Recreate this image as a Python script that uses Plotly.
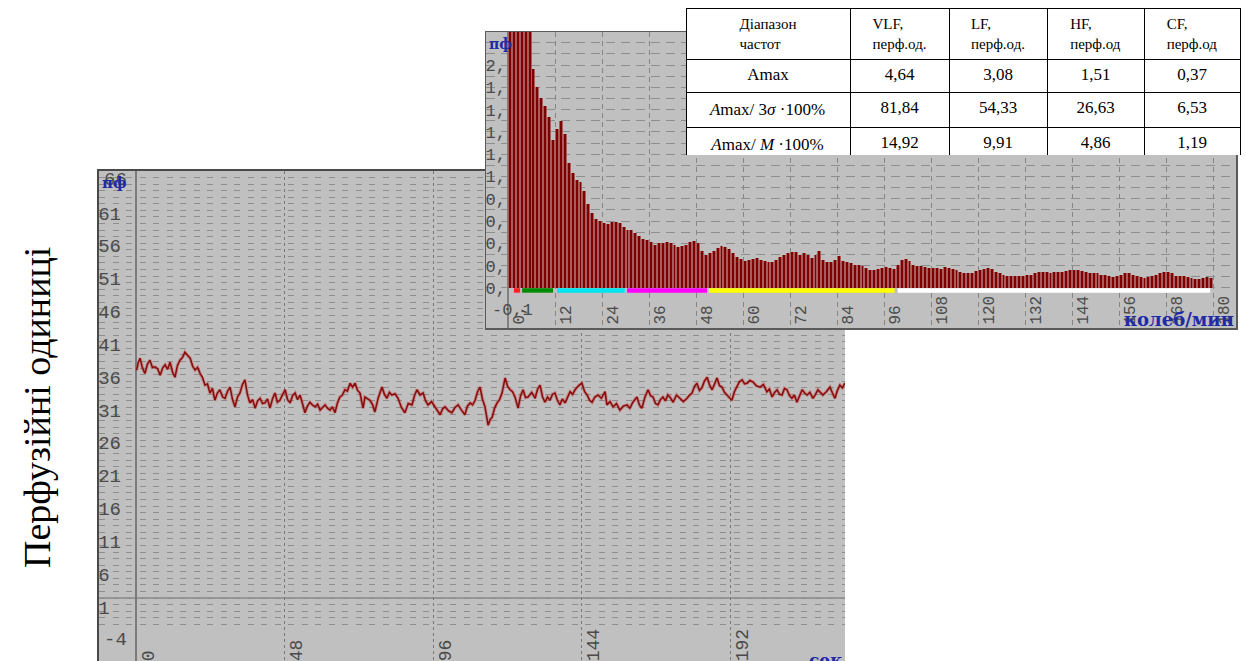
import plotly.graph_objects as go

W, H = 1246, 661

# ---------------- perfusion record (пф) against time, s ----------------
t_sec = [
    0.2, 0.75, 1.3, 2.1, 2.9, 3.7, 4.5, 5.3, 6.1, 7.0,
    7.8, 8.6, 9.4, 10.2, 11.0, 11.8, 12.6, 13.4, 14.2, 15.0,
    15.8, 16.6, 17.5, 18.3, 19.1, 19.9, 20.7, 21.5, 22.3, 23.1,
    23.9, 24.7, 25.5, 26.3, 27.1, 28.0, 28.8, 29.6, 30.4, 31.2,
    32.0, 32.8, 33.6, 34.4, 35.2, 36.0, 36.8, 37.7, 38.5, 39.3,
    40.1, 40.9, 41.7, 42.5, 43.3, 44.1, 44.9, 45.7, 46.5, 47.4,
    48.2, 49.0, 49.8, 50.6, 51.4, 52.2, 53.0, 53.8, 54.6, 55.4,
    56.2, 57.0, 57.9, 58.7, 59.5, 60.3, 61.1, 61.9, 62.7, 63.5,
    64.3, 65.1, 65.9, 66.7, 67.5, 68.3, 69.2, 70.0, 70.8, 71.6,
    72.4, 72.9, 73.4, 74.0, 74.8, 75.6, 76.4, 77.2, 78.3, 79.5,
    80.3, 81.1, 81.9, 82.7, 83.7, 84.7, 85.8, 86.9, 88.0, 89.2,
    90.0, 90.8, 91.8, 92.8, 93.6, 94.4, 95.5, 96.6, 97.4, 98.3,
    99.1, 99.9, 101.0, 102.1, 103.1, 104.1, 105.2, 106.3, 107.1, 108.0,
    108.8, 109.6, 110.4, 111.2, 112.0, 112.8, 113.8, 114.5, 115.1, 115.9,
    116.7, 117.5, 118.3, 119.3, 120.1, 120.9, 121.7, 122.5, 123.5, 124.3,
    125.1, 125.9, 126.7, 127.9, 129.0, 129.8, 130.6, 131.4, 132.2, 133.0,
    133.8, 134.6, 135.4, 136.2, 137.0, 137.8, 138.7, 139.5, 140.3, 141.1,
    141.9, 143.0, 144.1, 145.0, 145.8, 146.6, 147.4, 148.3, 149.3, 150.4,
    151.6, 152.2, 153.2, 154.2, 155.3, 156.4, 157.5, 158.7, 159.6, 160.6,
    161.9, 162.7, 163.5, 164.5, 165.5, 166.3, 167.1, 167.9, 168.7, 169.5,
    170.3, 171.1, 171.9, 172.7, 173.6, 174.7, 175.8, 176.9, 178.1, 178.9,
    179.7, 180.5, 181.3, 182.1, 182.9, 183.7, 184.6, 185.4, 186.2, 187.0,
    187.8, 188.6, 189.4, 190.2, 191.0, 191.8, 192.6, 193.4, 194.2, 195.0,
    195.9, 196.7, 197.5, 198.4, 199.4, 200.5, 201.7, 202.8, 203.9, 204.7,
    205.6, 206.4, 207.2, 208.0, 208.8, 209.6, 210.4, 211.2, 212.0, 212.8,
    213.6, 214.4, 215.3, 216.1, 216.9, 217.8, 218.8, 219.6, 220.4, 221.2,
    222.0, 223.1, 224.3, 225.1, 225.9, 226.7, 227.5, 228.3, 229.1,
]
perf = [
    35.7, 36.9, 37.5, 36.0, 35.2, 36.6, 37.2, 36.1, 36.2, 35.9,
    34.9, 36.0, 36.5, 35.8, 36.9, 35.4, 34.6, 36.4, 37.2, 37.6,
    38.4, 37.9, 37.5, 36.3, 35.7, 36.1, 35.2, 34.6, 33.4, 33.6,
    32.2, 32.9, 31.1, 32.2, 32.7, 31.6, 31.4, 32.5, 33.1, 31.2,
    30.1, 31.6, 32.2, 33.5, 34.2, 32.0, 30.7, 31.2, 29.9, 31.0,
    31.4, 30.6, 30.7, 31.3, 29.9, 31.3, 32.2, 30.8, 31.1, 32.0,
    32.7, 31.2, 30.7, 31.8, 32.2, 31.2, 31.9, 30.6, 29.2, 30.2,
    30.8, 30.4, 30.1, 30.5, 29.6, 30.0, 30.4, 29.9, 29.6, 30.1,
    29.2, 30.7, 31.6, 31.9, 32.7, 32.5, 33.7, 33.1, 33.7, 32.6,
    32.2, 31.0, 29.9, 31.6, 31.3, 31.1, 30.5, 29.3, 31.5, 33.1,
    32.0, 31.4, 32.3, 31.9, 32.1, 31.4, 30.0, 29.2, 30.6, 30.4,
    31.8, 32.7, 31.9, 32.2, 31.0, 30.4, 30.9, 30.1, 29.4, 28.9,
    29.8, 30.1, 29.5, 29.2, 30.0, 30.4, 29.6, 28.9, 30.2, 30.7,
    30.4, 31.1, 32.4, 33.1, 31.2, 30.1, 27.3, 28.2, 28.5, 29.9,
    30.7, 31.2, 32.2, 34.5, 33.2, 32.7, 32.4, 31.6, 29.9, 31.8,
    32.7, 31.5, 31.6, 32.3, 31.4, 32.8, 33.4, 31.6, 30.8, 31.6,
    31.1, 32.0, 32.2, 31.1, 30.4, 31.3, 30.7, 31.7, 32.4, 32.0,
    32.7, 33.3, 33.7, 32.4, 31.9, 31.1, 30.8, 31.6, 31.9, 31.4,
    32.4, 30.4, 30.9, 30.1, 30.6, 29.6, 30.2, 30.4, 29.9, 30.8,
    31.6, 30.4, 29.9, 31.6, 32.7, 31.8, 31.6, 30.6, 30.4, 31.2,
    31.6, 31.0, 31.9, 31.5, 30.8, 31.9, 31.4, 30.9, 31.4, 31.9,
    32.2, 33.2, 33.7, 32.6, 33.0, 34.0, 34.6, 33.4, 32.7, 33.5,
    34.5, 33.3, 33.1, 32.3, 31.9, 31.6, 31.1, 32.4, 33.1, 33.9,
    34.2, 33.6, 33.7, 34.1, 33.9, 33.3, 33.1, 33.5, 32.4, 32.8,
    31.6, 32.3, 32.7, 32.0, 31.9, 32.9, 32.7, 31.8, 31.4, 31.9,
    30.8, 31.6, 32.7, 32.2, 31.9, 32.3, 31.4, 32.0, 32.7, 32.3,
    31.9, 32.4, 33.1, 32.2, 31.4, 32.6, 33.4, 33.0, 33.7,
]
ts_xticks = [0, 48, 96, 144, 192]
ts_yticks = [61, 56, 51, 46, 41, 36, 31, 26, 21, 16, 11, 6, 1]
ts_yticks_edge = [66, -4]          # scale marks at the very top and bottom
BASE_LEVEL = 1

# ---------------- amplitude spectrum, bins of 1 колеб/мин ----------------
spec_amp = [2.60, 3.20, 4.64, 3.90, 3.10, 2.45, 1.96, 1.80, 1.70, 1.63,
            1.53, 1.33, 1.43, 1.50, 1.38, 1.12, 1.03, 0.97, 0.95, 0.87,
            0.75, 0.67, 0.62, 0.60, 0.58, 0.57, 0.59, 0.59, 0.58, 0.55,
            0.52, 0.52, 0.49, 0.47, 0.44, 0.43, 0.41, 0.39, 0.40, 0.40,
            0.41, 0.40, 0.39, 0.37, 0.38, 0.39, 0.41, 0.42, 0.40, 0.33,
            0.30, 0.31, 0.33, 0.36, 0.38, 0.37, 0.35, 0.31, 0.28, 0.26,
            0.24, 0.25, 0.26, 0.27, 0.25, 0.24, 0.23, 0.23, 0.25, 0.28,
            0.30, 0.31, 0.32, 0.32, 0.30, 0.31, 0.30, 0.27, 0.30, 0.33,
            0.25, 0.23, 0.23, 0.25, 0.29, 0.24, 0.23, 0.22, 0.21, 0.21,
            0.20, 0.18, 0.16, 0.16, 0.17, 0.18, 0.19, 0.18, 0.17, 0.21,
            0.25, 0.26, 0.24, 0.21, 0.20, 0.20, 0.19, 0.18, 0.18, 0.18,
            0.17, 0.19, 0.18, 0.17, 0.16, 0.14, 0.13, 0.13, 0.13, 0.15,
            0.16, 0.17, 0.18, 0.17, 0.14, 0.13, 0.12, 0.11, 0.11, 0.11,
            0.11, 0.11, 0.12, 0.12, 0.13, 0.14, 0.14, 0.14, 0.13, 0.14,
            0.14, 0.14, 0.15, 0.16, 0.16, 0.16, 0.15, 0.14, 0.13, 0.13,
            0.13, 0.12, 0.12, 0.11, 0.10, 0.11, 0.12, 0.13, 0.13, 0.12,
            0.11, 0.10, 0.09, 0.10, 0.11, 0.12, 0.13, 0.14, 0.14, 0.13,
            0.11, 0.11, 0.11, 0.10, 0.09, 0.08, 0.08, 0.09, 0.10, 0.09]
spec_freq = [i + 0.5 for i in range(len(spec_amp))]
spec_xticks = [0, 12, 24, 36, 48, 60, 72, 84, 96, 108, 120, 132, 144, 156, 168, 180]
spec_xtext = ["0,", "12", "24", "36", "48", "60", "72", "84", "96", "108", "120",
              "132", "144", "156", "168", "180"]
spec_yticks = [2.0, 1.8, 1.6, 1.4, 1.2, 1.0, 0.8, 0.6, 0.4, 0.2, 0.0]
spec_ytext = ["2,", "1,", "1,", "1,", "1,", "1,", "0,", "0,", "0,", "0,", "0,"]
SPEC_LOW_TICK = -0.2
SPEC_LOW_TEXT = "-0,1"

# frequency ranges marked under the spectrum
band_start = [1.5, 3.6, 12.5, 30.4, 51.3, 99.5]
band_end = [3.1, 11.5, 29.8, 50.8, 98.7, 179.3]
band_color = ["#ff1f1f", "#008a00", "#00e6f0", "#ff00ff", "#ffff00", "#ffffff"]

# ---------------- table of amplitudes ----------------
tab_header = ["Діапазон<br>частот", "VLF,<br>перф.од.", "LF,<br>перф.од.",
              "HF,<br>перф.од", "CF,<br>перф.од"]
tab_rows = ["Amax", "<i>A</i>max/ 3<i>σ</i> ·100%", "<i>A</i>max/ <i>M</i> ·100%"]
col_vlf = ["4,64", "81,84", "14,92"]
col_lf = ["3,08", "54,33", "9,91"]
col_hf = ["1,51", "26,63", "4,86"]
col_cf = ["0,37", "6,53", "1,19"]


def fx(px):
    return px / W


def fy(py):
    return 1 - py / H


PANEL = "#c0c0c0"
GRID = "#8e8e8e"
LABEL = "#4a4a4a"
BLUE = "#1f2aa6"
MONO = "Liberation Mono, DejaVu Sans Mono, monospace"
SERIF = "Liberation Serif, Times New Roman, serif"
BOLD_SERIF = "DejaVu Serif, serif"

# axis ranges (time record and spectrum panels)
T_LO, T_HI = -11.96, 229.15
P_LO, P_HI = -8.59, 66.0
F_LO, F_HI = -5.62, 185.86
A_LO, A_HI = -0.359, 2.296

fig = go.Figure()

# perfusion record
fig.add_trace(go.Scatter(x=t_sec, y=perf, mode="lines", xaxis="x", yaxis="y",
                         line=dict(color="rgba(200,60,60,0.35)", width=3.5),
                         hoverinfo="skip"))
fig.add_trace(go.Scatter(x=t_sec, y=perf, mode="lines", xaxis="x", yaxis="y",
                         line=dict(color="#8a0c0c", width=1.6)))

# spectrum bars: pale full-width bin with a dark narrower bar on top
fig.add_trace(go.Bar(x=spec_freq, y=spec_amp, width=1.0, xaxis="x2", yaxis="y2",
                     marker=dict(color="#a85c5c", line=dict(width=0))))
fig.add_trace(go.Bar(x=spec_freq, y=spec_amp, width=0.5, xaxis="x2", yaxis="y2",
                     marker=dict(color="#7c0000", line=dict(width=0))))

# coloured frequency ranges
for s, e, c in zip(band_start, band_end, band_color):
    fig.add_trace(go.Scatter(x=[s, e], y=[-0.022, -0.022], mode="lines",
                             xaxis="x2", yaxis="y2", line=dict(color=c, width=4.5)))

# table
fig.add_trace(go.Table(
    domain=dict(x=[fx(686), fx(1240)], y=[fy(156), fy(8)]),
    columnwidth=[164, 99, 98, 97, 96],
    header=dict(values=tab_header, align="center", height=49,
                fill=dict(color="white"), line=dict(color="black", width=1),
                font=dict(family=SERIF, size=15, color="black")),
    cells=dict(values=[tab_rows, col_vlf, col_lf, col_hf, col_cf], align="center",
               height=32.7, fill=dict(color="white"), line=dict(color="black", width=1),
               font=dict(family=SERIF, size=17, color="black")),
))

fig.update_layout(
    width=W, height=H,
    margin=dict(l=0, r=0, t=0, b=0),
    paper_bgcolor="white", plot_bgcolor=PANEL,
    showlegend=False, barmode="overlay", bargap=0,
    xaxis=dict(domain=[fx(99), fx(845)], range=[T_LO, T_HI],
               tickmode="array", tickvals=ts_xticks, ticktext=[str(v) for v in ts_xticks],
               ticklabelposition="inside", tickangle=-90, ticklabelshift=12,
               ticklabelstandoff=-6, ticks="",
               tickfont=dict(family=MONO, size=18, color=LABEL),
               showgrid=True, gridcolor="#777777", griddash="3px,3px", gridwidth=1,
               zeroline=True, zerolinecolor="#7a7a7a", zerolinewidth=1.5,
               showline=True, linecolor="#4a4a4a", linewidth=2, mirror=True,
               fixedrange=True),
    yaxis=dict(domain=[0, fy(171)], range=[P_LO, P_HI],
               tickmode="array", tickvals=ts_yticks, ticktext=[str(v) for v in ts_yticks],
               ticklabelposition="inside", ticklabelshift=9, ticks="",
               tickfont=dict(family=MONO, size=19, color=LABEL),
               showgrid=True, gridcolor=GRID, griddash="6px,7.5px", gridwidth=1,
               minor=dict(dtick=1, tick0=0, showgrid=True, gridcolor=GRID,
                          griddash="6px,7.5px", gridwidth=1),
               zeroline=False, showline=True, linecolor="#4a4a4a", linewidth=2,
               fixedrange=True),
    xaxis2=dict(domain=[fx(486), fx(1236)], range=[F_LO, F_HI], anchor="y2",
                tickmode="array", tickvals=spec_xticks, ticktext=spec_xtext,
                ticklabelposition="inside", tickangle=-90, ticklabelshift=11,
                ticklabelstandoff=-2, ticks="",
                tickfont=dict(family=MONO, size=16, color=LABEL),
                showgrid=True, gridcolor="#858585", griddash="5px,4px", gridwidth=1,
                zeroline=True, zerolinecolor="#808080", zerolinewidth=1.5,
                showline=True, linecolor="#5a5a5a", linewidth=1.5, mirror=True,
                fixedrange=True),
    yaxis2=dict(domain=[fy(328), fy(32)], range=[A_LO, A_HI], anchor="x2",
                tickmode="array", tickvals=spec_yticks, ticktext=spec_ytext,
                ticklabelposition="inside", ticks="",
                tickfont=dict(family=MONO, size=17, color=LABEL),
                showgrid=True, gridcolor=GRID, griddash="9px,6px", gridwidth=1,
                minor=dict(dtick=0.1, tick0=0, showgrid=True, gridcolor=GRID,
                           griddash="9px,6px", gridwidth=1),
                zeroline=False, showline=True, linecolor="#5a5a5a", linewidth=1.5,
                mirror=True, fixedrange=True),
)

# solid reference level of the recorder scale
fig.add_shape(type="line", xref="x", yref="y", x0=T_LO, x1=T_HI,
              y0=BASE_LEVEL, y1=BASE_LEVEL, layer="below",
              line=dict(color="#8a8a8a", width=1.5))

annotations = [
    dict(text="<b>пф</b>", x=fx(100), y=fy(172), xanchor="left", yanchor="top",
         font=dict(family=BOLD_SERIF, size=15, color=BLUE)),
    dict(text="<b>пф</b>", x=fx(487), y=fy(34), xanchor="left", yanchor="top",
         font=dict(family=BOLD_SERIF, size=14, color=BLUE)),
    dict(text="<b>сек</b>", x=fx(807), y=fy(648), xanchor="left", yanchor="top",
         font=dict(family=BOLD_SERIF, size=17, color=BLUE)),
    dict(text="<b>колеб/мин</b>", x=fx(1236), y=fy(332), xanchor="right",
         yanchor="bottom", font=dict(family=BOLD_SERIF, size=18, color=BLUE)),
    dict(text="Перфузійні одиниці", textangle=-90, x=fx(37), y=fy(408),
         xanchor="center", yanchor="middle",
         font=dict(family=SERIF, size=38, color="black")),
]
for a in annotations:
    a.update(xref="paper", yref="paper", showarrow=False)

# edge scale marks of the record, written just below their level like the others
edge_marks = [
    dict(text=str(v), xref="paper", yref="y", x=fx(102), y=v, yshift=-9,
         xanchor="left", yanchor="middle", showarrow=False,
         font=dict(family=MONO, size=19, color=LABEL))
    for v in ts_yticks_edge
]
# "пф" is printed over the top scale mark, so it goes after it
annotations = edge_marks + annotations
annotations.append(dict(text=SPEC_LOW_TEXT, xref="paper", yref="y2", x=fx(490),
                        y=SPEC_LOW_TICK, xanchor="left", yanchor="middle",
                        showarrow=False, font=dict(family=MONO, size=17, color=LABEL)))
fig.update_layout(annotations=annotations)

fig.write_html("out.html", include_plotlyjs=True, full_html=True,
               config={"displayModeBar": False, "staticPlot": True})
